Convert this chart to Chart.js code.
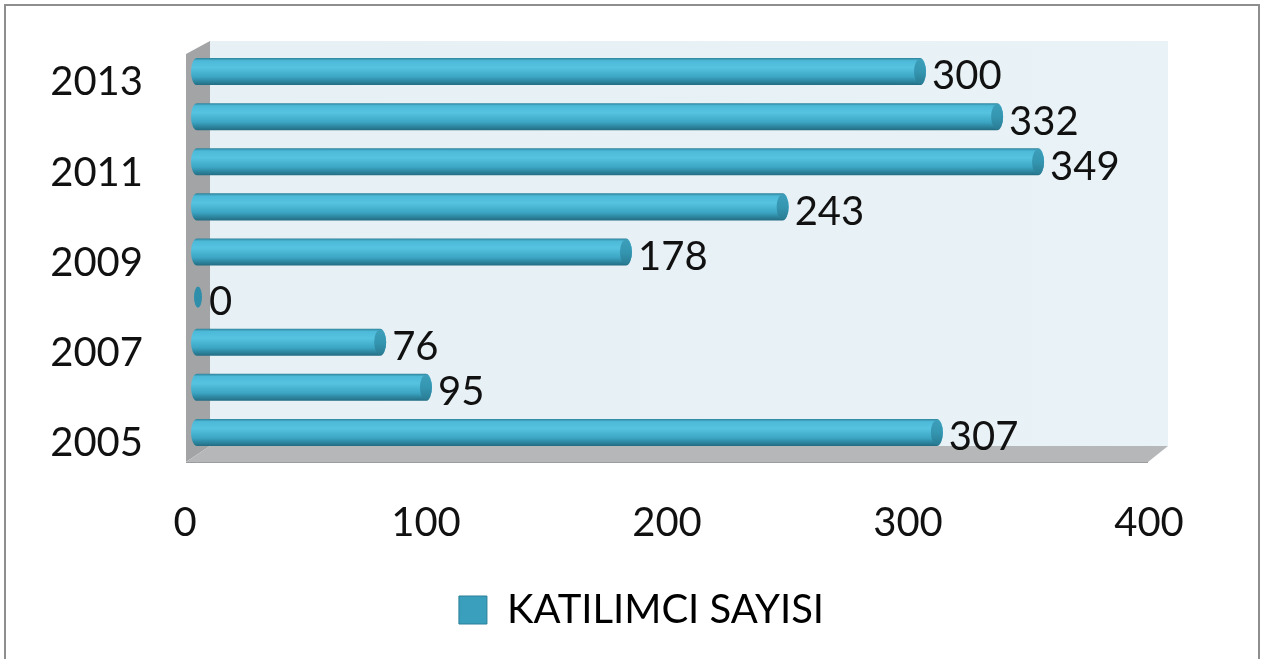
<!DOCTYPE html>
<html>
<head>
<meta charset="utf-8">
<script src="https://cdn.jsdelivr.net/npm/chart.js@4.4.1/dist/chart.umd.min.js"></script>
<style>
    html, body { margin: 0; padding: 0; background: #fff; }
    #wrap { width: 1261px; height: 659px; position: relative; }
</style>
</head>
<body>
<div id="wrap"><canvas id="myChart" width="1261" height="659"></canvas></div>
<script>
// Yıllar (alttan üste)
const years = ['2005', '2006', '2007', '2008', '2009', '2010', '2011', '2012', '2013'];
// Katılımcı sayıları
const participants = [307, 95, 76, 0, 178, 243, 349, 332, 300];
// X ekseni etiketleri
const xTicks = [0, 100, 200, 300, 400];
const seriesName = 'KATILIMCI SAYISI';

const FONT = 'Lato, "Open Sans", sans-serif';

// 3D duvarlar ve dış çerçeve
const wallsPlugin = {
    id: 'walls',
    beforeDatasetsDraw(chart) {
        const ctx = chart.ctx;
        const a = chart.chartArea;
        const frontL = a.left - 11, backL = a.left + 13;
        const backT = a.top - 8, frontT = a.top + 5;
        const backB = a.bottom - 9, frontB = a.bottom + 7;
        const backR = a.right + 7, frontR = a.right - 13;
        ctx.save();
        // arka duvar
        const g = ctx.createLinearGradient(backL, 0, backR, 0);
        g.addColorStop(0, '#e6f0f5');
        g.addColorStop(1, '#e9f2f6');
        ctx.fillStyle = g;
        ctx.fillRect(backL, backT, backR - backL, backB - backT);
        // sol duvar
        ctx.fillStyle = '#a3a4a6';
        ctx.beginPath();
        ctx.moveTo(frontL, frontT);
        ctx.lineTo(backL, backT);
        ctx.lineTo(backL, backB);
        ctx.lineTo(frontL, frontB);
        ctx.closePath();
        ctx.fill();
        // zemin
        ctx.fillStyle = '#b5b7b9';
        ctx.beginPath();
        ctx.moveTo(frontL, frontB);
        ctx.lineTo(backL, backB);
        ctx.lineTo(backR, backB);
        ctx.lineTo(frontR, frontB);
        ctx.closePath();
        ctx.fill();
        ctx.strokeStyle = '#9a9c9e';
        ctx.lineWidth = 1;
        ctx.beginPath();
        ctx.moveTo(frontL, frontB + 0.5);
        ctx.lineTo(frontR, frontB + 0.5);
        ctx.stroke();
        ctx.restore();
    },
    afterDraw(chart) {
        const ctx = chart.ctx;
        ctx.save();
        ctx.strokeStyle = '#8e8e8e';
        ctx.lineWidth = 2;
        ctx.beginPath();
        ctx.moveTo(5, chart.height);
        ctx.lineTo(5, 5);
        ctx.lineTo(1259, 5);
        ctx.lineTo(1259, chart.height);
        ctx.stroke();
        ctx.restore();
    }
};

// Silindir çubuklar + değer etiketleri
const cylinderPlugin = {
    id: 'cylinders',
    afterDatasetsDraw(chart) {
        const ctx = chart.ctx;
        const meta = chart.getDatasetMeta(0);
        ctx.save();
        meta.data.forEach((bar, i) => {
            const h = bar.height;
            const top = bar.y - h / 2;
            const base = bar.base;
            const end = bar.x;
            const rx = 6;
            if (end - base > 1) {
                const g = ctx.createLinearGradient(0, top, 0, top + h);
                g.addColorStop(0, '#2d8199');
                g.addColorStop(0.1, '#4db9d8');
                g.addColorStop(0.35, '#56c3e1');
                g.addColorStop(0.7, '#3ca6c4');
                g.addColorStop(1, '#226c82');
                ctx.fillStyle = g;
                ctx.beginPath();
                ctx.ellipse(base, bar.y, rx, h / 2, 0, Math.PI / 2, Math.PI * 1.5);
                ctx.lineTo(end, top);
                ctx.ellipse(end, bar.y, rx, h / 2, 0, -Math.PI / 2, Math.PI / 2);
                ctx.closePath();
                ctx.fill();
                // uç kapak
                const cg = ctx.createLinearGradient(0, top, 0, top + h);
                cg.addColorStop(0, '#3e9fba');
                cg.addColorStop(0.5, '#3596b1');
                cg.addColorStop(1, '#287a91');
                ctx.fillStyle = cg;
                ctx.beginPath();
                ctx.ellipse(end, bar.y, rx, h / 2 - 1, 0, 0, Math.PI * 2);
                ctx.fill();
            } else {
                ctx.fillStyle = '#2f8fab';
                ctx.beginPath();
                ctx.ellipse(base + 1, bar.y, 4, h / 2 - 3, 0, 0, Math.PI * 2);
                ctx.fill();
            }
            // değer etiketi
            ctx.fillStyle = '#111';
            ctx.font = '40px ' + FONT;
            ctx.textAlign = 'left';
            ctx.textBaseline = 'middle';
            ctx.fillText(String(participants[i]), end + rx + 6, bar.y + 5);
        });
        ctx.restore();
    }
};

const ctx = document.getElementById('myChart').getContext('2d');
const myChart = new Chart(ctx, {
    type: 'bar',
    data: {
        labels: years,
        datasets: [{
            label: seriesName,
            data: participants,
            backgroundColor: 'rgba(0,0,0,0)',
            borderWidth: 0,
            barPercentage: 1,
            categoryPercentage: 0.6,
        }]
    },
    options: {
        indexAxis: 'y',
        responsive: false,
        animation: false,
        devicePixelRatio: 1,
        layout: {
            padding: { left: 22, right: 0, top: 49, bottom: 19 }
        },
        scales: {
            x: {
                min: xTicks[0],
                max: xTicks[xTicks.length - 1],
                afterBuildTicks(scale) {
                    scale.ticks = xTicks.map(v => ({ value: v }));
                },
                afterFit(scale) {
                    scale.height = 125;
                    scale.paddingLeft = 0;
                    scale.paddingRight = 0;
                },
                grid: { display: false, drawTicks: false },
                border: { display: false },
                ticks: {
                    padding: 44,
                    labelOffset: -12,
                    color: '#111',
                    font: { size: 40, family: FONT },
                    maxRotation: 0,
                }
            },
            y: {
                reverse: true,
                afterFit(scale) {
                    scale.width = 175;
                    scale.paddingTop = 0;
                    scale.paddingBottom = 0;
                },
                grid: { display: false, drawTicks: false },
                border: { display: false },
                ticks: {
                    autoSkip: false,
                    padding: 54,
                    labelOffset: 11,
                    color: '#111',
                    font: { size: 40, family: FONT },
                    callback(value, index) {
                        return index % 2 === 0 ? years[index] : '';
                    }
                }
            },
            // sağda boşluk bırakan görünmez eksen
            yRight: {
                type: 'linear',
                position: 'right',
                afterFit(scale) {
                    scale.width = 100;
                    scale.paddingTop = 0;
                    scale.paddingBottom = 0;
                },
                grid: { display: false, drawTicks: false },
                border: { display: false },
                ticks: { display: false }
            }
        },
        plugins: {
            legend: {
                position: 'bottom',
                labels: {
                    boxWidth: 28,
                    boxHeight: 28,
                    padding: 10,
                    color: '#111',
                    font: { size: 40, family: FONT },
                    generateLabels() {
                        return [{
                            text: seriesName,
                            fillStyle: '#3a9fbd',
                            strokeStyle: '#2a7f97',
                            lineWidth: 1,
                            datasetIndex: 0,
                        }];
                    }
                }
            },
            tooltip: { enabled: false }
        }
    },
    plugins: [wallsPlugin, cylinderPlugin]
});
</script>
</body>
</html>
